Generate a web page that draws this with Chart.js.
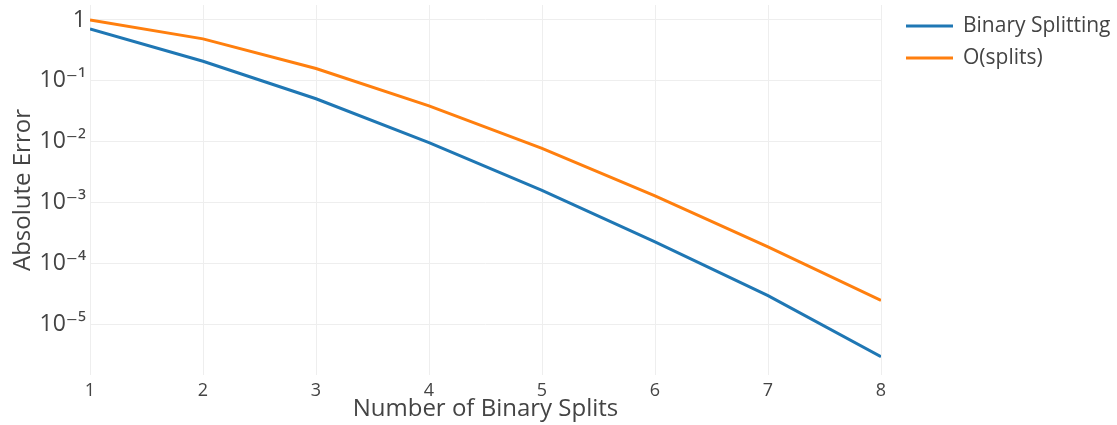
<!DOCTYPE html>
<html>
<head>
<meta charset="utf-8">
<script src="https://cdn.jsdelivr.net/npm/chart.js@4/dist/chart.umd.min.js"></script>
<style>
  html, body { margin: 0; padding: 0; background: #fff; }
  #wrap { width: 1117px; height: 425px; }
</style>
</head>
<body>
<div id="wrap"><canvas id="errChart" width="1117" height="425"></canvas></div>
<script>
// Absolute error vs number of binary splits (log scale)
const splits = [1, 2, 3, 4, 5, 6, 7, 8];
const binarySplitting = [0.71, 0.21, 0.051, 0.0097, 0.0016, 0.00023, 0.00003, 0.000003];
const oSplits = [1, 0.49, 0.16, 0.039, 0.0078, 0.0013, 0.00019, 0.000025];
const yTickValues = [1, 1e-1, 1e-2, 1e-3, 1e-4, 1e-5];
const yTickLabels = ['1', '10⁻¹', '10⁻²', '10⁻³', '10⁻⁴', '10⁻⁵'];

const FONT = '"Open Sans", "DejaVu Sans", sans-serif';
const TEXT = '#444';
const GRID = '#eeeeee';

// legend drawn by hand, right of the plot like plotly does it
const sideLegend = {
  id: 'sideLegend',
  afterDraw(chart) {
    const { ctx } = chart;
    ctx.save();
    ctx.font = '21px ' + FONT;
    ctx.textBaseline = 'middle';
    chart.data.datasets.forEach((ds, i) => {
      const y = 26 + 32 * i;
      ctx.strokeStyle = ds.borderColor;
      ctx.lineWidth = 3;
      ctx.beginPath();
      ctx.moveTo(906, y);
      ctx.lineTo(953, y);
      ctx.stroke();
      ctx.fillStyle = TEXT;
      ctx.fillText(ds.label, 963, y);
    });
    ctx.restore();
  }
};

const toPoints = arr => splits.map((x, i) => ({ x, y: arr[i] }));

new Chart(document.getElementById('errChart'), {
  type: 'line',
  data: {
    datasets: [
      {
        label: 'Binary Splitting',
        data: toPoints(binarySplitting),
        borderColor: '#1f77b4',
        borderWidth: 3,
        pointRadius: 0,
        tension: 0
      },
      {
        label: 'O(splits)',
        data: toPoints(oSplits),
        borderColor: '#ff7f0e',
        borderWidth: 3,
        pointRadius: 0,
        tension: 0
      }
    ]
  },
  options: {
    responsive: false,
    animation: false,
    layout: { padding: { top: 5, right: 236, bottom: 0, left: 0 } },
    plugins: { legend: { display: false }, tooltip: { enabled: false } },
    scales: {
      x: {
        type: 'linear',
        min: 1,
        max: 8,
        afterFit: s => { s.height = 50; s.paddingLeft = 0; s.paddingRight = 0; },
        grid: { color: GRID, lineWidth: 1, drawTicks: false },
        border: { display: false },
        ticks: { stepSize: 1, padding: 5, color: TEXT, font: { family: FONT, size: 18 } },
        title: {
          display: true,
          text: 'Number of Binary Splits',
          color: TEXT,
          font: { family: FONT, size: 24 },
          padding: { top: 0, bottom: 1 }
        }
      },
      y: {
        type: 'logarithmic',
        min: 1.5e-6,
        max: 1.76,
        afterFit: s => { s.width = 90; s.paddingTop = 0; s.paddingBottom = 0; },
        afterBuildTicks: s => { s.ticks = yTickValues.map(v => ({ value: v })); },
        grid: { color: GRID, lineWidth: 1, drawTicks: false },
        border: { display: false },
        ticks: {
          padding: 4,
          color: TEXT,
          font: { family: FONT, size: 23 },
          callback: (v, i) => yTickLabels[i]
        },
        title: {
          display: true,
          text: 'Absolute Error',
          color: TEXT,
          font: { family: FONT, size: 24 },
          padding: { top: 9, bottom: 0 }
        }
      }
    }
  },
  plugins: [sideLegend]
});
</script>
</body>
</html>
